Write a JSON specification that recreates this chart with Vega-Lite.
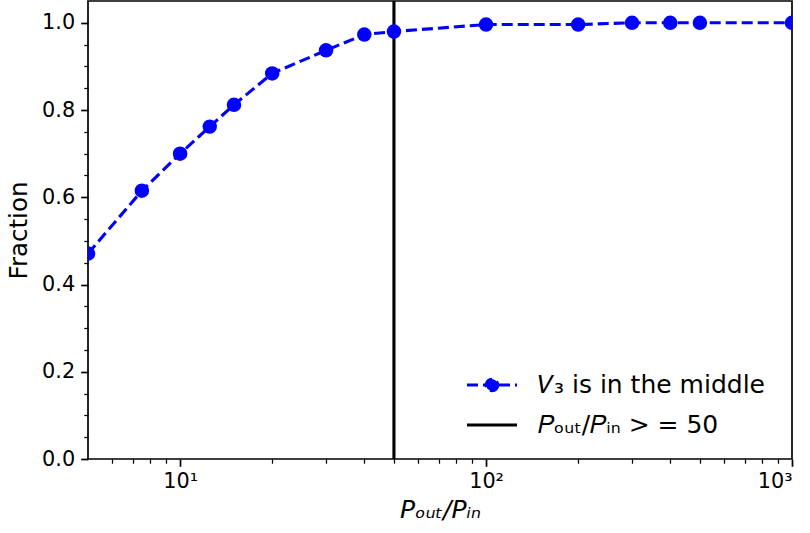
{
  "$schema": "https://vega.github.io/schema/vega-lite/v6.json",
  "width": 704,
  "height": 458,
  "autosize": {"type": "none"},
  "padding": {"left": 88, "top": 1, "right": 18, "bottom": 74},
  "config": {
    "font": "DejaVu Sans",
    "view": {"stroke": "#000000", "strokeWidth": 1.7},
    "axis": {
      "grid": false,
      "domain": false,
      "tickColor": "#000000",
      "labelColor": "#000000",
      "titleColor": "#000000",
      "labelFont": "DejaVu Sans",
      "titleFont": "DejaVu Sans",
      "labelFontSize": 20.8,
      "titleFontSize": 24.5,
      "titleFontWeight": "normal"
    }
  },
  "datasets": {
    "fraction": [
      {"ratio": 5, "frac": 0.471, "series": "𝑉₃ is in the middle"},
      {"ratio": 7.5, "frac": 0.615, "series": "𝑉₃ is in the middle"},
      {"ratio": 10, "frac": 0.700, "series": "𝑉₃ is in the middle"},
      {"ratio": 12.5, "frac": 0.762, "series": "𝑉₃ is in the middle"},
      {"ratio": 15, "frac": 0.812, "series": "𝑉₃ is in the middle"},
      {"ratio": 20, "frac": 0.884, "series": "𝑉₃ is in the middle"},
      {"ratio": 30, "frac": 0.937, "series": "𝑉₃ is in the middle"},
      {"ratio": 40, "frac": 0.973, "series": "𝑉₃ is in the middle"},
      {"ratio": 50, "frac": 0.980, "series": "𝑉₃ is in the middle"},
      {"ratio": 100, "frac": 0.996, "series": "𝑉₃ is in the middle"},
      {"ratio": 200, "frac": 0.996, "series": "𝑉₃ is in the middle"},
      {"ratio": 300, "frac": 1.0, "series": "𝑉₃ is in the middle"},
      {"ratio": 400, "frac": 1.0, "series": "𝑉₃ is in the middle"},
      {"ratio": 500, "frac": 1.0, "series": "𝑉₃ is in the middle"},
      {"ratio": 1000, "frac": 1.0, "series": "𝑉₃ is in the middle"}
    ],
    "threshold": [
      {"ratio": 50, "series": "𝑃ₒᵤₜ/𝑃ᵢₙ > = 50"}
    ]
  },
  "layer": [
    {
      "data": {"name": "fraction"},
      "mark": {"type": "point", "opacity": 0},
      "encoding": {
        "x": {
          "field": "ratio", "type": "quantitative",
          "scale": {"type": "log", "domain": [5, 1000], "nice": false},
          "axis": {
            "orient": "bottom",
            "values": [6, 7, 8, 9, 20, 30, 40, 50, 60, 70, 80, 90, 200, 300, 400, 500, 600, 700, 800, 900],
            "labels": false, "title": null, "tickSize": 4.2, "tickWidth": 1.25
          }
        },
        "y": {
          "field": "frac", "type": "quantitative",
          "scale": {"domain": [0, 1.05], "nice": false, "zero": false},
          "axis": {
            "orient": "left",
            "values": [0.05, 0.1, 0.15, 0.25, 0.3, 0.35, 0.45, 0.5, 0.55, 0.65, 0.7, 0.75, 0.85, 0.9, 0.95],
            "labels": false, "title": null, "tickSize": 4.2, "tickWidth": 1.25
          }
        }
      }
    },
    {
      "data": {"name": "threshold"},
      "mark": {"type": "rule", "strokeWidth": 3.1},
      "encoding": {
        "x": {"field": "ratio", "type": "quantitative", "axis": null},
        "color": {
          "field": "series", "type": "nominal",
          "scale": {"domain": ["𝑉₃ is in the middle", "𝑃ₒᵤₜ/𝑃ᵢₙ > = 50"], "range": ["#0000ff", "#000000"]},
          "legend": {
            "title": null,
            "orient": "none",
            "legendX": 377,
            "legendY": 357,
            "padding": 0,
            "symbolSize": 2500,
            "symbolStrokeWidth": 3.1,
            "labelFontSize": 25,
            "labelFont": "DejaVu Sans",
            "labelColor": "#000000",
            "labelOffset": 19,
            "labelLimit": 400,
            "rowPadding": -7,
            "encode": {
              "symbols": {
                "update": {
                  "shape": {"signal": "datum.value === '𝑃ₒᵤₜ/𝑃ᵢₙ > = 50' ? 'M-1,0H1' : 'M-1,0H1M0.23,0A0.23,0.23 0 1,1 -0.23,0A0.23,0.23 0 1,1 0.23,0Z'"},
                  "fill": {"signal": "datum.value === '𝑃ₒᵤₜ/𝑃ᵢₙ > = 50' ? 'transparent' : '#0000ff'"},
                  "stroke": {"signal": "datum.value === '𝑃ₒᵤₜ/𝑃ᵢₙ > = 50' ? '#000000' : '#0000ff'"},
                  "strokeDash": {"signal": "datum.value === '𝑃ₒᵤₜ/𝑃ᵢₙ > = 50' ? [] : [11, 5]"},
                  "opacity": {"value": 1},
                  "fillOpacity": {"value": 1},
                  "strokeWidth": {"value": 3.1}
                }
              }
            }
          }
        }
      }
    },
    {
      "data": {"name": "fraction"},
      "mark": {
        "type": "line",
        "clip": true,
        "strokeWidth": 3.1,
        "strokeDash": [11, 5],
        "point": {"filled": true, "size": 210, "opacity": 1, "clip": true}
      },
      "encoding": {
        "x": {
          "field": "ratio", "type": "quantitative",
          "axis": {
            "orient": "bottom",
            "values": [10, 100, 1000],
            "labelExpr": "datum.value === 10 ? '10¹' : datum.value === 100 ? '10²' : '10³'",
            "tickSize": 7.3, "tickWidth": 1.7, "labelPadding": 5,
            "title": "Pₒᵤₜ/Pᵢₙ", "titleFontStyle": "italic", "titleFontSize": 25, "titlePadding": 6
          }
        },
        "y": {
          "field": "frac", "type": "quantitative",
          "axis": {
            "orient": "left",
            "values": [0, 0.2, 0.4, 0.6, 0.8, 1.0],
            "format": ".1f",
            "tickSize": 7.3, "tickWidth": 1.7, "labelPadding": 6,
            "title": "Fraction", "titlePadding": 10
          }
        },
        "color": {"field": "series", "type": "nominal"}
      }
    }
  ],
  "resolve": {"axis": {"x": "independent", "y": "independent"}}
}
